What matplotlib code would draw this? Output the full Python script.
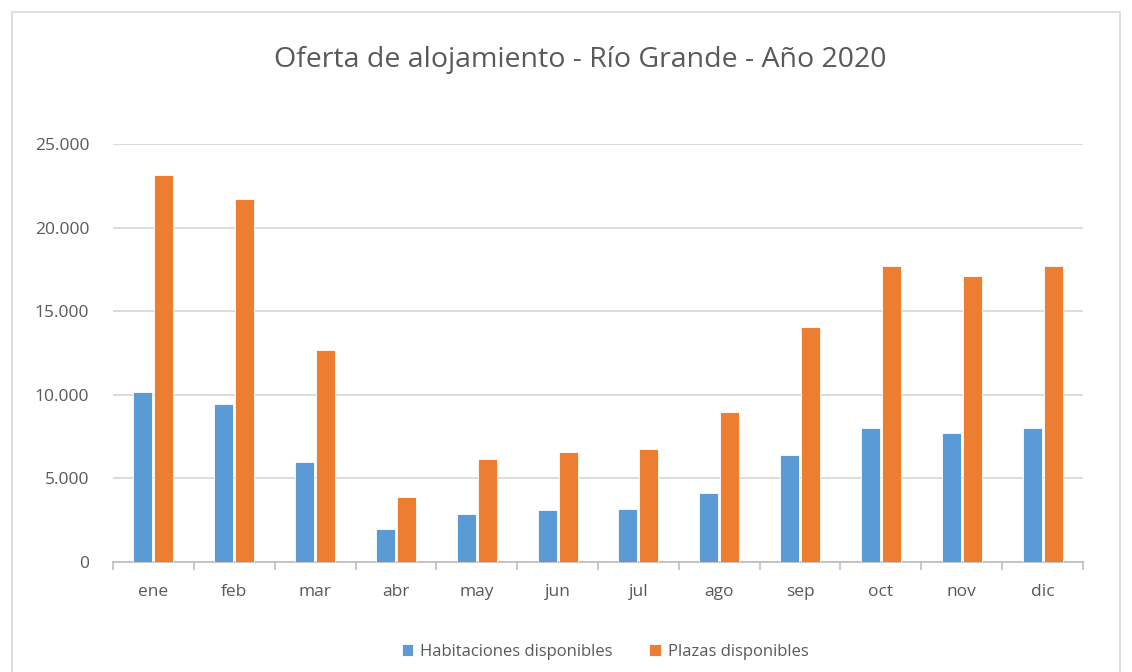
import numpy as np
import matplotlib.pyplot as plt
from matplotlib.patches import Rectangle
from matplotlib.ticker import FuncFormatter

plt.rcParams['font.family'] = ['Open Sans', 'DejaVu Sans']

meses = ['ene', 'feb', 'mar', 'abr', 'may', 'jun', 'jul', 'ago', 'sep', 'oct', 'nov', 'dic']
habitaciones = [10170, 9470, 6000, 1990, 2890, 3130, 3190, 4150, 6420, 8030, 7740, 8030]
plazas = [23170, 21730, 12700, 3910, 6180, 6600, 6780, 8990, 14070, 17720, 17120, 17720]

fig = plt.figure(figsize=(11.32, 6.72), dpi=100)
ax = fig.add_axes([113 / 1132, 1 - 562 / 672, 970 / 1132, 418 / 672])

# chart frame like the spreadsheet export
fig.patches.append(Rectangle((12 / 1132, -0.01), 1108 / 1132, 1 - 12 / 672 + 0.01,
                             transform=fig.transFigure, fill=False,
                             edgecolor='#d9d9d9', linewidth=1.2))

x = np.arange(len(meses))
w = 0.235
ax.bar(x - w / 2 - 0.012, habitaciones, w, color='#5b9bd5', edgecolor='white', linewidth=0.6,
       label='Habitaciones disponibles', zorder=3)
ax.bar(x + w / 2 + 0.012, plazas, w, color='#ed7d31', edgecolor='white', linewidth=0.6,
       label='Plazas disponibles', zorder=3)

ax.set_xlim(-0.5, len(meses) - 0.5)
ax.set_ylim(0, 25000)
ax.set_yticks(np.arange(0, 25001, 5000))
ax.yaxis.set_major_formatter(FuncFormatter(lambda v, p: f'{int(v):,}'.replace(',', '.')))
ax.grid(axis='y', color='#d9d9d9', linewidth=1.3, zorder=0)
ax.set_xticks(x)
ax.set_xticklabels(meses)
ax.set_xticks(np.arange(-0.5, len(meses), 1), minor=True)

for s in ['top', 'right', 'left']:
    ax.spines[s].set_visible(False)
ax.spines['bottom'].set_color('#bfbfbf')
ax.spines['bottom'].set_linewidth(1.3)
ax.tick_params(axis='y', length=0, labelsize=12.5, labelcolor='#595959', pad=17)
ax.tick_params(axis='x', which='major', length=0, labelsize=12.5, labelcolor='#595959', pad=16)
ax.tick_params(axis='x', which='minor', length=6, color='#bfbfbf', width=1.2)

fig.text(580 / 1132, 1 - 60 / 672, 'Oferta de alojamiento - Río Grande - Año 2020',
         ha='center', va='center', fontsize=20.5, color='#595959')

ax.legend(loc='center', bbox_to_anchor=(605 / 1132, 1 - 652 / 672), bbox_transform=fig.transFigure,
          ncol=2, frameon=False, fontsize=12, labelcolor='#595959',
          handlelength=0.7, handleheight=0.7, handletextpad=0.4, columnspacing=2.2)

fig.savefig('out.png', dpi=100)
